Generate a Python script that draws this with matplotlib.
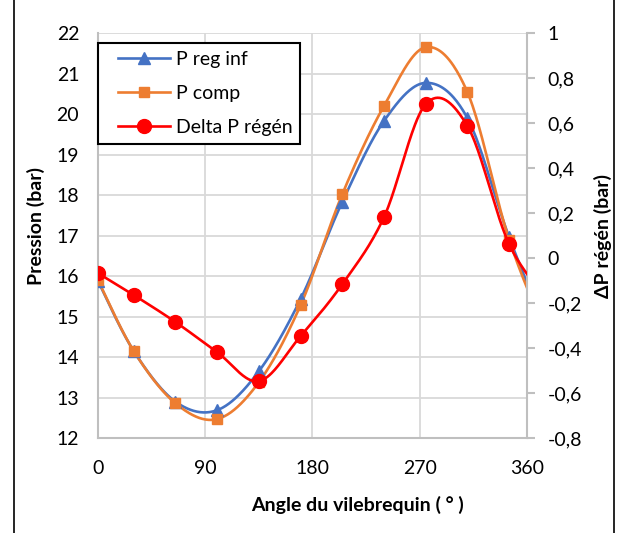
import numpy as np
import matplotlib
matplotlib.use("Agg")
import matplotlib.pyplot as plt
from matplotlib.lines import Line2D
from matplotlib.legend_handler import HandlerLine2D

plt.rcParams['font.family'] = ['Lato', 'DejaVu Sans']

angles = [0, 30, 65, 100, 135, 170, 205, 240, 275, 310, 345, 380]
p_reg_inf = [15.88, 14.15, 12.9, 12.69, 13.65, 15.43, 17.83, 19.83, 20.77, 19.9, 16.96, 14.4]
p_comp = [15.9, 14.15, 12.86, 12.47, 13.38, 15.28, 18.02, 20.2, 21.65, 20.54, 16.9, 14.3]
delta_p = [-0.067, -0.164, -0.284, -0.418, -0.547, -0.347, -0.116, 0.182, 0.684, 0.587, 0.062, -0.203]

x_ticks = [0, 90, 180, 270, 360]
left_ticks = list(range(12, 23))
right_ticks = [-0.8, -0.6, -0.4, -0.2, 0, 0.2, 0.4, 0.6, 0.8, 1]


def smooth(xs, ys, n=40):
    P = np.column_stack([xs, ys]).astype(float)
    P = np.vstack([P[0], P, P[-1]])
    out = []
    t = np.linspace(0, 1, n)[:, None]
    for i in range(1, len(P) - 2):
        p0, p1, p2, p3 = P[i - 1], P[i], P[i + 1], P[i + 2]
        c1 = p1 + (p2 - p0) / 6
        c2 = p2 - (p3 - p1) / 6
        seg = ((1 - t) ** 3) * p1 + 3 * ((1 - t) ** 2) * t * c1 + 3 * (1 - t) * t ** 2 * c2 + t ** 3 * p2
        out.append(seg)
    out = np.vstack(out)
    return out[:, 0], out[:, 1]


fig = plt.figure(figsize=(6.2, 5.33), dpi=100)
ax = fig.add_axes([0.158, 0.178, 0.692, 0.76])
ax2 = ax.twinx()

blue = '#4472C4'
orange = '#ED7D31'
red = '#FF0000'
grid = '#D9D9D9'
axcol = '#BFBFBF'

lw = 1.9
sx, sy = smooth(angles, p_reg_inf)
ax.plot(sx, sy, color=blue, lw=lw, zorder=3)
ax.plot(angles, p_reg_inf, ls='none', marker='^', ms=9, color=blue, zorder=4)
sx, sy = smooth(angles, p_comp)
ax.plot(sx, sy, color=orange, lw=lw, zorder=3)
ax.plot(angles, p_comp, ls='none', marker='s', ms=7.5, color=orange, zorder=4)
sx, sy = smooth(angles, delta_p)
ax2.plot(sx, sy, color=red, lw=lw, zorder=3)
ax2.plot(angles, delta_p, ls='none', marker='o', ms=10, color=red, zorder=4)

ax.set_xlim(0, 360)
ax.set_ylim(12, 22)
ax2.set_ylim(-0.8, 1)
ax.set_xticks(x_ticks)
ax.set_yticks(left_ticks)
ax2.set_yticks(right_ticks)
ax2.set_yticklabels([('%g' % v).replace('.', ',') for v in right_ticks])

ax.grid(True, color=grid, lw=1.3, zorder=0)
ax.set_axisbelow(True)
for s in ['top']:
    ax.spines[s].set_visible(False)
    ax2.spines[s].set_visible(False)
ax.spines['right'].set_visible(False)
ax2.spines['left'].set_visible(False)
ax2.spines['bottom'].set_visible(False)
for s in [ax.spines['left'], ax.spines['bottom'], ax2.spines['right']]:
    s.set_color(axcol)
    s.set_linewidth(1.5)

fs = 14
ax.tick_params(axis='y', length=0, pad=13.5, labelsize=fs, labelcolor='black')
ax.tick_params(axis='x', length=0, pad=16, labelsize=fs, labelcolor='black')
ax2.tick_params(axis='y', length=6, width=1.5, color=axcol, pad=9, labelsize=fs, labelcolor='black')

ax.set_ylabel('Pression (bar)', fontsize=fs, fontweight='bold')
ax.yaxis.set_label_coords(-0.124, 0.523)
ax2.set_ylabel('ΔP régén (bar)', fontsize=fs, fontweight='bold', labelpad=8)
ax.set_xlabel('Angle du vilebrequin ( ° )', fontsize=fs, fontweight='bold')
ax.xaxis.set_label_coords(0.604, -0.143)

h1, = ax.plot([], [], color=blue, lw=lw, marker='^', ms=9)
h2, = ax.plot([], [], color=orange, lw=lw, marker='s', ms=7.5)
h3, = ax.plot([], [], color=red, lw=lw, marker='o', ms=10)
hm = {h: HandlerLine2D(numpoints=1, xpad=0.65) for h in (h1, h2, h3)}
leg = ax2.legend([h1, h2, h3], ['P reg inf', 'P comp', 'Delta P régén'],
                 loc='upper left', bbox_to_anchor=(0.0, 0.975), borderaxespad=0,
                 fontsize=fs, handler_map=hm,
                 frameon=True, fancybox=False, edgecolor='black', framealpha=1,
                 handlelength=3.3, borderpad=0.4, labelspacing=0.88, handletextpad=0.3)
leg.get_frame().set_linewidth(1.5)
leg.set_zorder(10)

for xf in (13.5 / 620, 614 / 620):
    fig.add_artist(Line2D([xf, xf], [0, 1], transform=fig.transFigure, color='black', lw=1.2))

fig.savefig('out.png', dpi=100)
